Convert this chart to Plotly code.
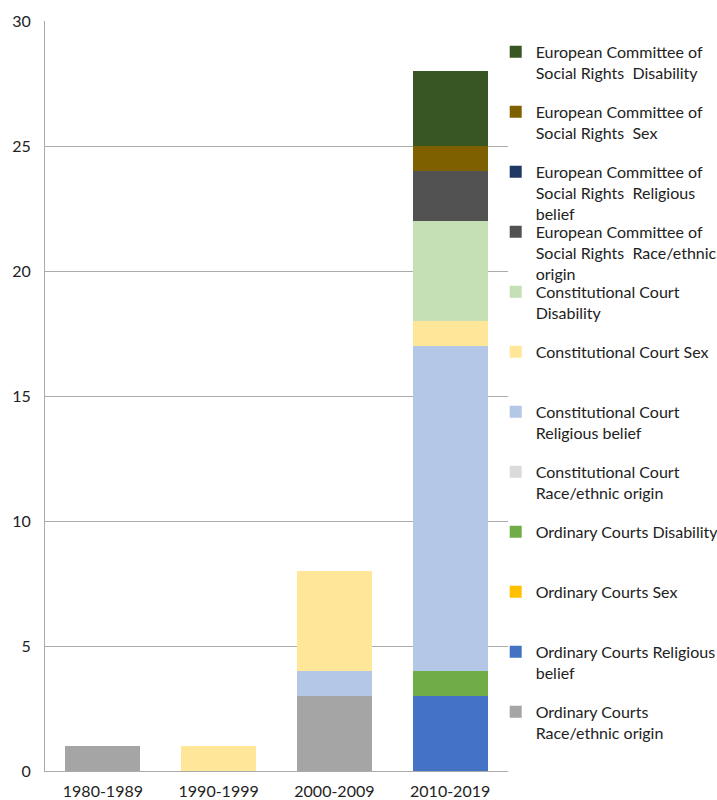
import plotly.graph_objects as go

categories = ["1980-1989", "1990-1999", "2000-2009", "2010-2019"]

# stacking order bottom -> top
series_names = [
    "Ordinary Courts<br>Race/ethnic origin",
    "Ordinary Courts Religious<br>belief",
    "Ordinary Courts Sex",
    "Ordinary Courts Disability",
    "Constitutional Court<br>Race/ethnic origin",
    "Constitutional Court<br>Religious belief",
    "Constitutional Court Sex",
    "Constitutional Court<br>Disability",
    "European Committee of<br>Social Rights\u00a0 Race/ethnic<br>origin",
    "European Committee of<br>Social Rights\u00a0 Religious<br>belief",
    "European Committee of<br>Social Rights\u00a0 Sex",
    "European Committee of<br>Social Rights\u00a0 Disability",
]

oc_race = [1, 0, 3, 0]
oc_religion = [0, 0, 0, 3]
oc_sex = [0, 0, 0, 0]
oc_disability = [0, 0, 0, 1]
cc_race = [0, 0, 0, 0]
cc_religion = [0, 0, 1, 13]
cc_sex = [0, 1, 4, 1]
cc_disability = [0, 0, 0, 4]
ecsr_race = [0, 0, 0, 2]
ecsr_religion = [0, 0, 0, 0]
ecsr_sex = [0, 0, 0, 1]
ecsr_disability = [0, 0, 0, 3]

series_values = [oc_race, oc_religion, oc_sex, oc_disability,
                 cc_race, cc_religion, cc_sex, cc_disability,
                 ecsr_race, ecsr_religion, ecsr_sex, ecsr_disability]

colors = ["#A5A5A5", "#4472C4", "#FFC000", "#70AD47",
          "#DBDBDB", "#B4C7E7", "#FFE699", "#C5E0B4",
          "#525252", "#203864", "#7F6000", "#375623"]

FONT = "Lato"
TXT = "#222222"

# plot area in pixels
L, R, T, B = 45, 508, 21, 771
W, H = 717, 800

fig = go.Figure()
n = len(series_names)
legend_layouts = {}
for i, (name, vals, col) in enumerate(zip(series_names, series_values, colors)):
    k = n - 1 - i  # position in legend from top
    lname = "legend" if k == 0 else f"legend{k+1}"
    fig.add_trace(go.Bar(
        x=categories, y=vals, name=name, marker_color=col,
        marker_line_width=0, legend=lname, showlegend=True,
    ))
    top_px = 34.8 + 60 * k
    legend_layouts[lname] = dict(
        x=(495.7 - L) / (R - L), xanchor="left",
        y=(B - top_px) / (B - T), yanchor="top",
        bgcolor="rgba(0,0,0,0)", borderwidth=0,
        valign="top",
        font=dict(family=FONT, size=16, color=TXT),
    )

fig.update_layout(
    barmode="stack",
    bargap=0.352,
    width=W, height=H,
    showlegend=True,
    margin=dict(l=L, r=W - R, t=T, b=H - B, autoexpand=False),
    paper_bgcolor="white", plot_bgcolor="white",
    font=dict(family=FONT, size=16, color=TXT),
    **legend_layouts,
)
fig.update_yaxes(
    range=[0, 30], dtick=5, showgrid=True, gridcolor="#ABABAB", gridwidth=1,
    showline=True, linecolor="#ABABAB", linewidth=1, zeroline=False,
    ticks="", ticklabelstandoff=10,
    tickfont=dict(family=FONT, size=16, color=TXT),
)
fig.update_xaxes(
    showline=True, linecolor="#ABABAB", linewidth=1, ticks="",
    ticklabelstandoff=6,
    tickfont=dict(family=FONT, size=16, color=TXT),
)

fig.write_html("out.html", config={"displayModeBar": False},
               post_script="document.body.style.margin='0';")
